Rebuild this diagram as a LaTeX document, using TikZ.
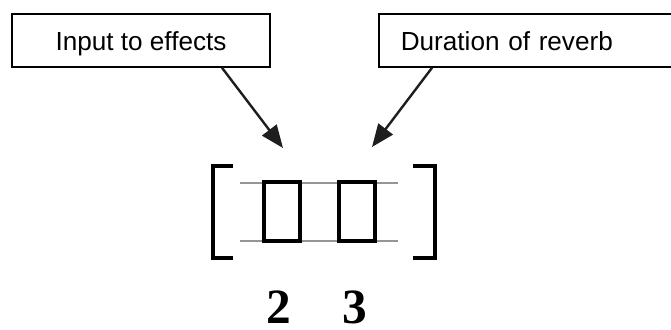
\documentclass[tikz,border=0pt]{standalone}
\usepackage{fontspec}
\setmainfont{Liberation Sans}
\newfontfamily\digitfont{Liberation Serif}
\usetikzlibrary{arrows.meta}

\tikzset{
	labelbox/.style={draw, line width=1.2pt, minimum height=39.75pt, inner sep=0pt,
		text height=17pt, text depth=2.6pt, font=\fontsize{19.6}{23}\selectfont},
	pointer/.style={line width=1.8pt, draw={rgb,255:red,30;green,30;blue,30},
		-{Triangle[length=17pt,width=13.5pt]}},
	slot/.style={draw, line width=3.2pt, minimum width=27pt, minimum height=44.25pt, inner sep=0pt},
	rail/.style={draw={rgb,255:red,150;green,150;blue,150}, line width=1.5pt},
	bracket/.style={line width=3pt},
	digit/.style={anchor=base, inner sep=0pt, text depth=0pt, font=\digitfont\bfseries\fontsize{37}{38}\selectfont}
}

\begin{document}
\begin{tikzpicture}[x=0.75pt,y=0.75pt,yscale=-1,xscale=1]
	\useasboundingbox (0,0) rectangle (671,329);
	
	% Text Node
	\node [labelbox, minimum width=193.5pt] (input) at (141,40.5) {Input to effects};
	% Text Node
	\node [labelbox, anchor=west, inner xsep=16.5pt, text width=210pt, align=left] (reverb) at (378,40.5) {Duration of reverb};
	
	%Shape: Lines
	\draw [rail] (240,182.5) -- (398,182.5) ;
	\draw [rail] (240,241) -- (398,241) ;
	%Shape: Rectangle
	\node [slot] (first) at (282,211.75) {};
	%Shape: Rectangle
	\node [slot] (second) at (357,211.75) {};
	
	%Shape: Brackets
	\draw [bracket] (233,165.5) -- (212.5,165.5) -- (212.5,257.5) -- (233,257.5) ;
	\draw [bracket] (413,165.5) -- (435,165.5) -- (435,257.5) -- (413,257.5) ;
	
	% Arrows
	\coordinate (tipa) at (283,148);
	\coordinate (tipb) at (372,147);
	\draw [pointer] ([xshift=60.75pt]input.south) -- (tipa) ;
	\draw [pointer] ([xshift=40.5pt]reverb.south west) -- (tipb) ;
	
	% Text Node
	\node [digit] (two) at (279,323) {2};
	% Text Node
	\node [digit] (three) at (355,323) {3};
	
\end{tikzpicture}
\end{document}
